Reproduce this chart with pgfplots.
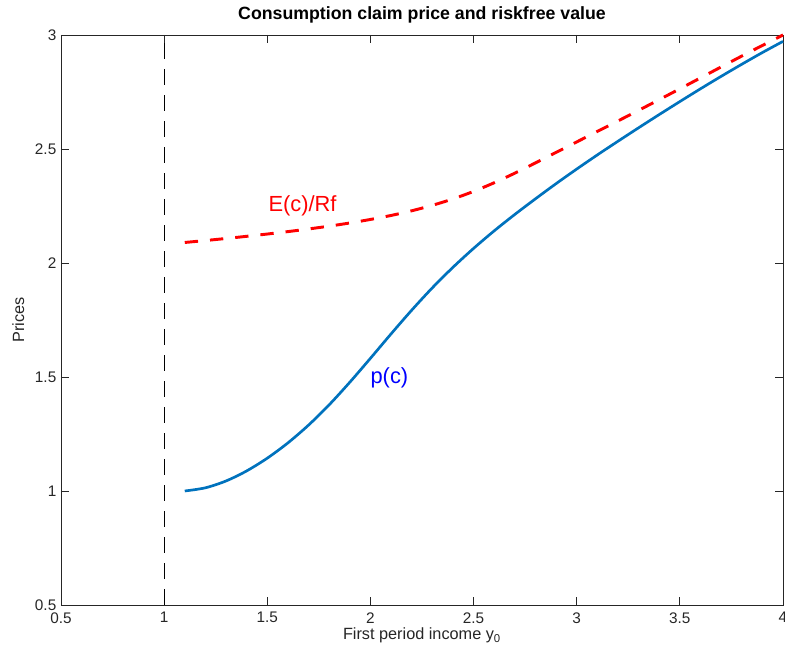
\documentclass[border=0pt]{standalone}
\usepackage{fontspec}
\setmainfont{Liberation Sans}
\usepackage{pgfplots}
\pgfplotsset{compat=1.18}
\definecolor{mblue}{RGB}{0,114,189}
\definecolor{axgray}{RGB}{38,38,38}

% price of the consumption claim, p(c)
\pgfplotstableread{
x    p
1.1  1.000
1.2  1.014
1.3  1.044
1.4  1.088
1.5  1.144
1.6  1.211
1.7  1.289
1.8  1.378
1.9  1.477
2.0  1.582
2.1  1.689
2.2  1.793
2.3  1.891
2.4  1.981
2.5  2.064
2.6  2.141
2.7  2.213
2.8  2.2815
2.9  2.348
3.0  2.412
3.1  2.474
3.2  2.534
3.3  2.593
3.4  2.651
3.5  2.708
3.6  2.764
3.7  2.8185
3.8  2.8715
3.9  2.923
4.0  2.972
}\pricetable

% riskfree value, E(c)/Rf
\pgfplotstableread{
x    e
1.1  2.090
1.2  2.0985
1.3  2.1075
1.4  2.117
1.5  2.127
1.6  2.1377
1.7  2.1492
1.8  2.1617
1.9  2.1755
2.0  2.191
2.1  2.2085
2.2  2.229
2.3  2.253
2.4  2.281
2.5  2.314
2.6  2.352
2.7  2.394
2.8  2.439
2.9  2.485
3.0  2.531
3.1  2.577
3.2  2.623
3.3  2.6695
3.4  2.7165
3.5  2.764
3.6  2.8118
3.7  2.8598
3.8  2.9075
3.9  2.954
4.0  3.000
}\riskfreetable

\begin{document}
\begin{tikzpicture}
\begin{axis}[
  name=ax,
  scale only axis,
  width=541.5pt, height=427.5pt,
  xmin=0.5, xmax=4, ymin=0.5, ymax=3,
  xtick={0.5,1,...,4}, ytick={0.5,1,...,3},
  tick align=inside,
  major tick length=6pt,
  axis line style={axgray, line width=0.6pt},
  tick style={axgray, line width=0.6pt},
  ticklabel style={font=\fontsize{11.5}{13}\selectfont, text=axgray},
  xticklabel style={yshift=-2pt},
  /pgf/number format/assume math mode=true,
  title={\bfseries Consumption claim price and riskfree value},
  title style={font=\fontsize{13.3}{15}\selectfont, at={(0.5,1)}, anchor=south,
               inner sep=0pt, yshift=2.5pt},
  xlabel={First period income y\textsubscript{0}},
  ylabel={Prices},
  label style={font=\fontsize{12.2}{14}\selectfont, text=axgray},
  xlabel style={at={(axis description cs:0.5,0)}, anchor=north, inner sep=0pt, yshift=-17pt},
  ylabel style={at={(axis description cs:-0.059,0.5)}, anchor=center},
  clip=false,
]
\addplot[black, line width=0.8pt, dash pattern=on 12pt off 7.5pt] coordinates {(1,0.5) (1,3)};
\addplot[mblue, line width=2pt, smooth] table[x=x, y=p] {\pricetable};
\addplot[red, line width=2.2pt, dash pattern=on 10pt off 9pt, smooth] table[x=x, y=e] {\riskfreetable};
\node[red, font=\fontsize{16.4}{18}\selectfont] at (axis cs:1.671,2.25) {E(c)/Rf};
\node[blue, font=\fontsize{16.4}{18}\selectfont] at (axis cs:2.092,1.496) {p(c)};
\end{axis}
\pgfresetboundingbox
\path ([xshift=-45.75pt,yshift=-32.25pt]ax.south west) rectangle ([xshift=1.5pt,yshift=26.25pt]ax.north east);
\end{tikzpicture}
\end{document}
